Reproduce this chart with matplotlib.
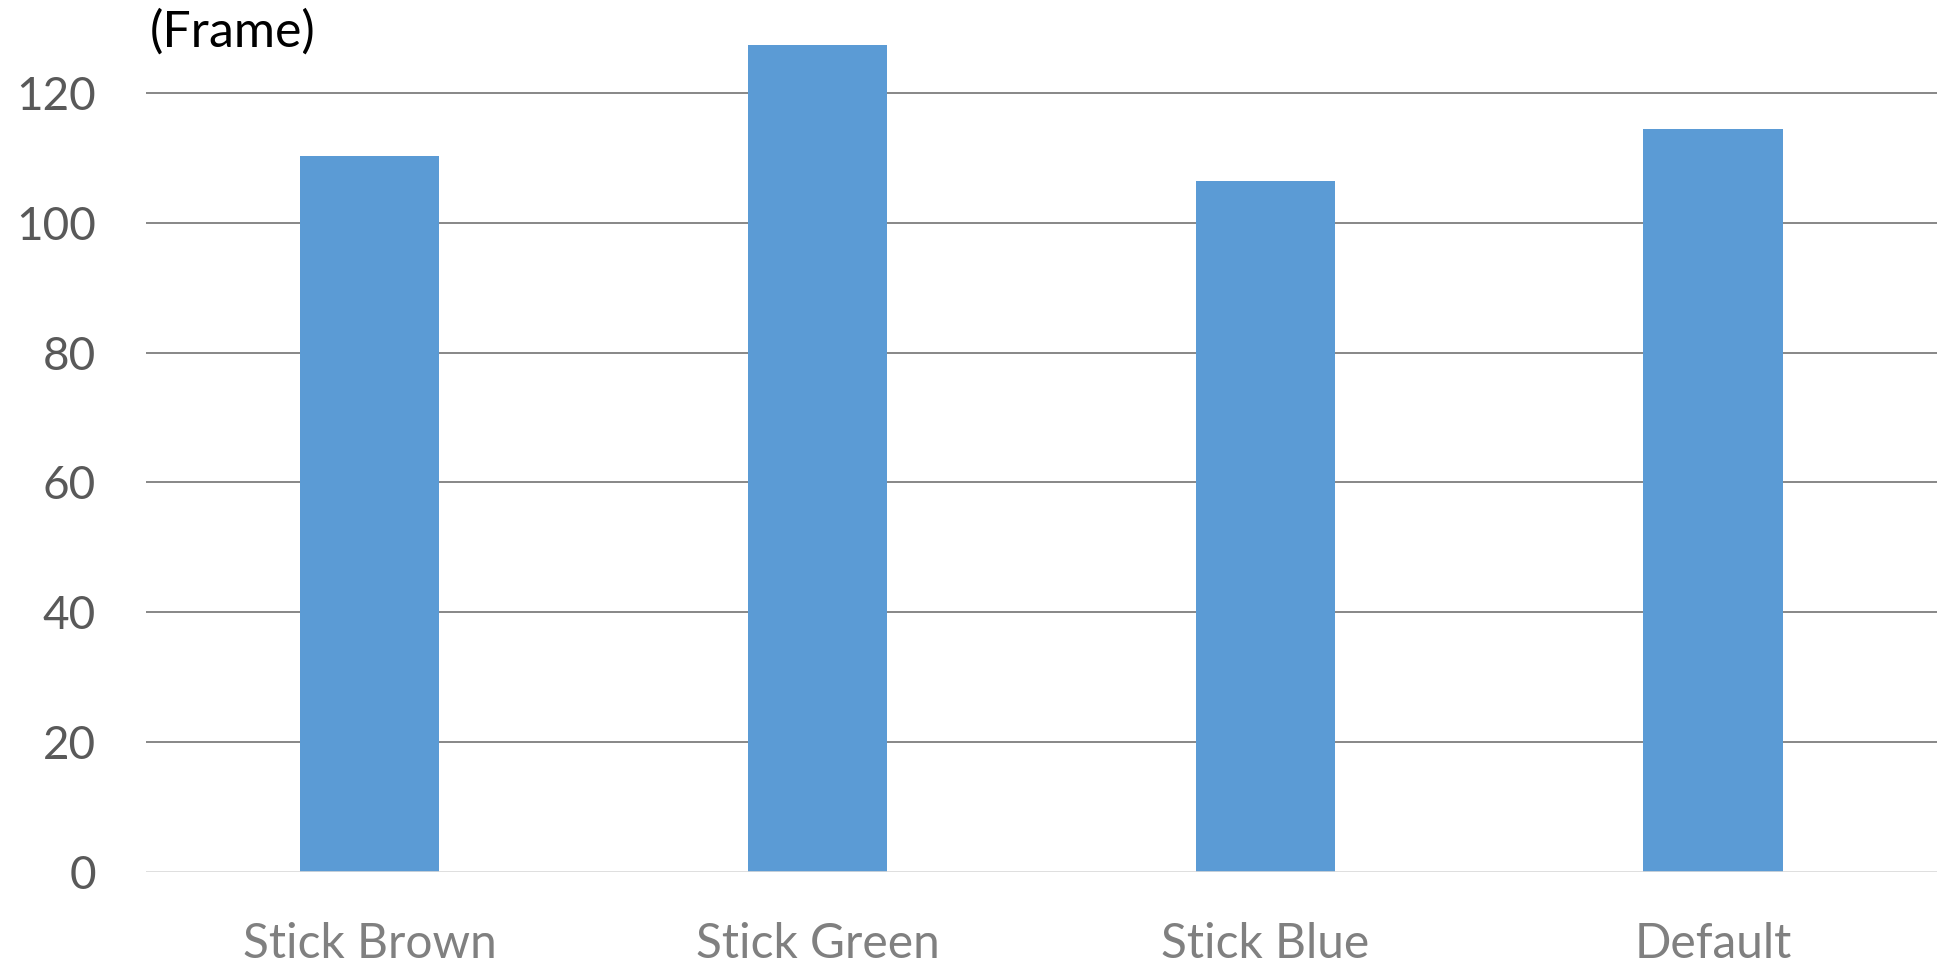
import matplotlib.pyplot as plt

plt.rcParams['font.family'] = ['Lato', 'DejaVu Sans']

# Frame counts per stick colour
categories = ["Stick Brown", "Stick Green", "Stick Blue", "Default"]
frames = [110.3, 127.4, 106.4, 114.4]
yticks = [0, 20, 40, 60, 80, 100, 120]

fig = plt.figure(figsize=(19.37, 9.64), dpi=100)
ax = fig.add_axes([0.0753, 0.0954, 0.9247, 0.9046])

x = range(len(categories))
ax.bar(x, frames, width=0.311, color="#5b9bd5", zorder=3)

ax.set_xlim(-0.5, len(categories) - 0.5)
ax.set_ylim(0, 134.3)
ax.set_yticks(yticks)
ax.set_xticks(list(x))
ax.set_xticklabels(categories)

# horizontal gridlines, light baseline at zero
for t in yticks[1:]:
    ax.axhline(t, color="#878787", linewidth=1.4, zorder=1)
ax.axhline(0, color="#d9d9d9", linewidth=1.2, zorder=4)

for s in ax.spines.values():
    s.set_visible(False)

ax.tick_params(axis="y", length=0, pad=36, labelsize=33, labelcolor="#595959")
ax.tick_params(axis="x", length=0, pad=36, labelsize=34.5, labelcolor="#808080")

ax.text(0.002, 0.99, "(Frame)", transform=ax.transAxes, fontsize=36,
        color="black", ha="left", va="top")

fig.savefig("out.png", dpi=100)
